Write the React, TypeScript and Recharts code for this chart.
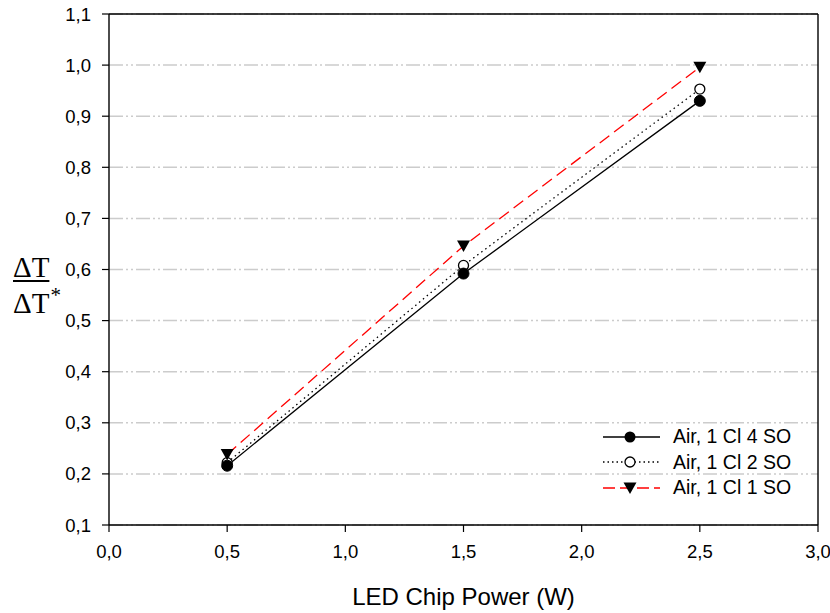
import React from "react"
import { LineChart, Line, XAxis, YAxis, CartesianGrid, ReferenceLine } from "recharts"

// chip power (W) and normalised temperature rise for each configuration
const power = [0.5, 1.5, 2.5]
const air4SO = [0.216, 0.592, 0.930]
const air2SO = [0.222, 0.608, 0.953]
const air1SO = [0.238, 0.646, 0.996]

const xTicks = [0, 0.5, 1.0, 1.5, 2.0, 2.5, 3.0]
const yTicks = [0.1, 0.2, 0.3, 0.4, 0.5, 0.6, 0.7, 0.8, 0.9, 1.0, 1.1]

const data = power.map((x, i) => ({ x, s4: air4SO[i], s2: air2SO[i], s1: air1SO[i] }))

const W = 830
const H = 613
const sans = "'Liberation Sans', Arial, sans-serif"
const serif = "'Liberation Serif', 'Times New Roman', serif"

const fmt = (v: number) => v.toFixed(1).replace(".", ",")

const FilledDot = (props: any) => (
  <circle key={props.key} cx={props.cx} cy={props.cy} r={5.5} fill="#000" stroke="#000" strokeWidth={1} />
)

const OpenDot = (props: any) => (
  <circle key={props.key} cx={props.cx} cy={props.cy} r={5} fill="#fff" stroke="#000" strokeWidth={1.3} />
)

const TriangleDot = (props: any) => {
  const { cx, cy } = props
  return (
    <polygon
      key={props.key}
      points={`${cx - 6.5},${cy - 5.5} ${cx + 6.5},${cy - 5.5} ${cx},${cy + 6}`}
      fill="#000"
    />
  )
}

const legendItems = [
  { label: "Air, 1 Cl 4 SO", stroke: "#000", dash: undefined, marker: "filled" },
  { label: "Air, 1 Cl 2 SO", stroke: "#000", dash: "1.5 3", marker: "open" },
  { label: "Air, 1 Cl 1 SO", stroke: "#ff0000", dash: "12 5", marker: "tri" },
]

function LegendBox() {
  return (
    <div style={{ position: "absolute", left: 600, top: 424, fontFamily: sans, fontSize: 19.5, color: "#000" }}>
      {legendItems.map((it) => (
        <div key={it.label} style={{ display: "flex", alignItems: "center", height: 25.5 }}>
          <svg width={62} height={20} style={{ marginRight: 11 }}>
            <line x1={3} y1={10} x2={60} y2={10} stroke={it.stroke} strokeWidth={1.3} strokeDasharray={it.dash} />
            {it.marker === "filled" && <circle cx={30} cy={10} r={5.5} fill="#000" />}
            {it.marker === "open" && <circle cx={30} cy={10} r={5} fill="#fff" stroke="#000" strokeWidth={1.3} />}
            {it.marker === "tri" && <polygon points="23.5,4.5 36.5,4.5 30,16" fill="#000" />}
          </svg>
          <span>{it.label}</span>
        </div>
      ))}
    </div>
  )
}

export default function App() {
  return (
    <div style={{ position: "absolute", left: 0, top: 0, width: W, height: H, background: "#fff" }}>
      <LineChart width={W} height={H} data={data} margin={{ top: 14, right: 12, bottom: 58, left: 49 }}>
        <CartesianGrid
          horizontal
          vertical={false}
          stroke="#cccccc"
          strokeWidth={1.5}
          strokeDasharray="14 3 2 3 2 3"
        />
        <XAxis
          type="number"
          dataKey="x"
          domain={[0, 3]}
          ticks={xTicks}
          interval={0}
          tickFormatter={fmt}
          height={30}
          tickSize={7}
          tickMargin={13}
          axisLine={{ stroke: "#000", strokeWidth: 1.4 }}
          tickLine={{ stroke: "#000", strokeWidth: 1.2 }}
          tick={{ fill: "#000", fontFamily: sans, fontSize: 18.5 }}
        />
        <YAxis
          type="number"
          domain={[0.1, 1.1]}
          ticks={yTicks}
          interval={0}
          tickFormatter={fmt}
          width={60}
          tickSize={7}
          tickMargin={11}
          axisLine={{ stroke: "#000", strokeWidth: 1.4 }}
          tickLine={{ stroke: "#000", strokeWidth: 1.2 }}
          tick={{ fill: "#000", fontFamily: sans, fontSize: 18.5 }}
        />
        <ReferenceLine y={1.1} stroke="#000" strokeWidth={1.4} />
        <ReferenceLine x={3} stroke="#000" strokeWidth={1.4} />
        <Line
          dataKey="s2"
          stroke="#000"
          strokeWidth={1.3}
          strokeDasharray="1.5 3.5"
          dot={OpenDot}
          activeDot={false}
          isAnimationActive={false}
        />
        <Line
          dataKey="s1"
          stroke="#ff0000"
          strokeWidth={1.3}
          strokeDasharray="12 6"
          dot={TriangleDot}
          activeDot={false}
          isAnimationActive={false}
        />
        <Line
          dataKey="s4"
          stroke="#000"
          strokeWidth={1.3}
          dot={FilledDot}
          activeDot={false}
          isAnimationActive={false}
        />
      </LineChart>

      {/* y-axis title: ΔT over ΔT* */}
      <div style={{ position: "absolute", left: 13, top: 249, fontFamily: serif, fontSize: 29, color: "#000", lineHeight: "36px" }}>
        <div style={{ textDecoration: "underline", textDecorationThickness: "1.5px", textUnderlineOffset: "3px" }}>ΔT</div>
        <div>
          ΔT<span style={{ fontSize: 21, position: "relative", top: -11, marginLeft: 1 }}>*</span>
        </div>
      </div>

      <div
        style={{
          position: "absolute",
          left: 109,
          width: 709,
          top: 583,
          textAlign: "center",
          fontFamily: sans,
          fontSize: 24,
          color: "#000",
        }}
      >
        LED Chip Power (W)
      </div>

      <LegendBox />
    </div>
  )
}
